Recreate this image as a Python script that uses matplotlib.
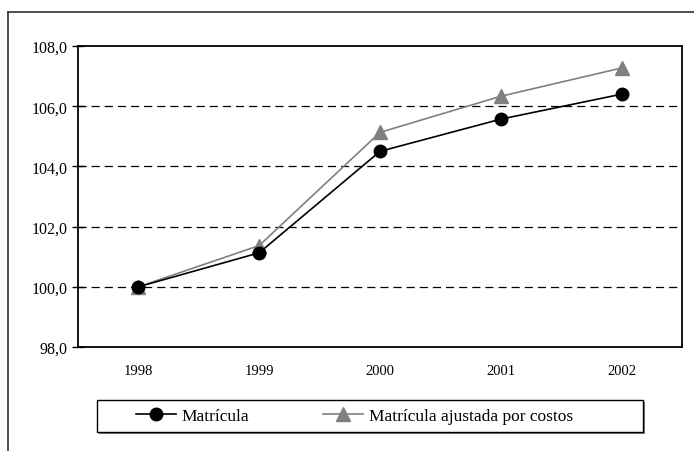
import numpy as np
import matplotlib.pyplot as plt
from matplotlib.lines import Line2D
from matplotlib.patches import Rectangle

years = ['1998', '1999', '2000', '2001', '2002']
matricula = [100.0, 101.13, 104.5, 105.57, 106.4]
matricula_aj = [100.0, 101.37, 105.13, 106.33, 107.27]
yticks = [98, 100, 102, 104, 106, 108]

plt.rcParams['font.family'] = ['Liberation Serif', 'DejaVu Serif']

W, H = 694, 452
fig = plt.figure(figsize=(W / 100, H / 100), dpi=100)
ax = fig.add_axes([78 / W, 1 - 348 / H, 604 / W, 301 / H])

x = np.arange(len(years))
ax.plot(x, matricula, color='black', lw=1.2, marker='o', ms=9, label='Matrícula', zorder=4)
ax.plot(x, matricula_aj, color='#808080', lw=1.2, marker='^', ms=9.5,
        label='Matrícula ajustada por costos', zorder=3)

ax.set_xlim(-0.5, len(years) - 0.5)
ax.set_ylim(98, 108)
ax.set_xticks(x)
ax.set_xticklabels(years)
ax.set_yticks(yticks)
ax.set_yticklabels([f'{v:.1f}'.replace('.', ',') for v in yticks])
ax.tick_params(axis='x', labelsize=10.5, length=0, pad=12)
ax.tick_params(axis='y', labelsize=11.5, direction='inout', length=9, width=1, pad=3)
for v in yticks[1:-1]:
    ax.axhline(v, color='black', lw=0.9, ls=(0, (6.5, 4)), zorder=1)
for s in ax.spines.values():
    s.set_linewidth(1.3)

# legend box with shadow
fig.add_artist(Rectangle((99 / W, 1 - 435 / H), 546 / W, 32 / H, transform=fig.transFigure,
                         facecolor='#808080', edgecolor='none', zorder=1))
fig.add_artist(Rectangle((97 / W, 1 - 433 / H), 546 / W, 32 / H, transform=fig.transFigure,
                         facecolor='white', edgecolor='black', lw=1.0, zorder=2))
leg = fig.legend(*ax.get_legend_handles_labels(), loc='center left',
                 bbox_to_anchor=(136 / W, 1 - 417 / H), ncol=2, frameon=False,
                 fontsize=12.5, columnspacing=4.3, handlelength=2.3,
                 handletextpad=0.3, borderpad=0, borderaxespad=0)
leg.set_zorder(3)

# outer frame (partial)
fig.add_artist(Line2D([8 / W, 8 / W], [0, 1 - 13 / H], color='#333333', lw=1.2))
fig.add_artist(Line2D([8 / W, 1], [1 - 13 / H, 1 - 13 / H], color='#333333', lw=1.2))

fig.savefig('out.png', dpi=100)
